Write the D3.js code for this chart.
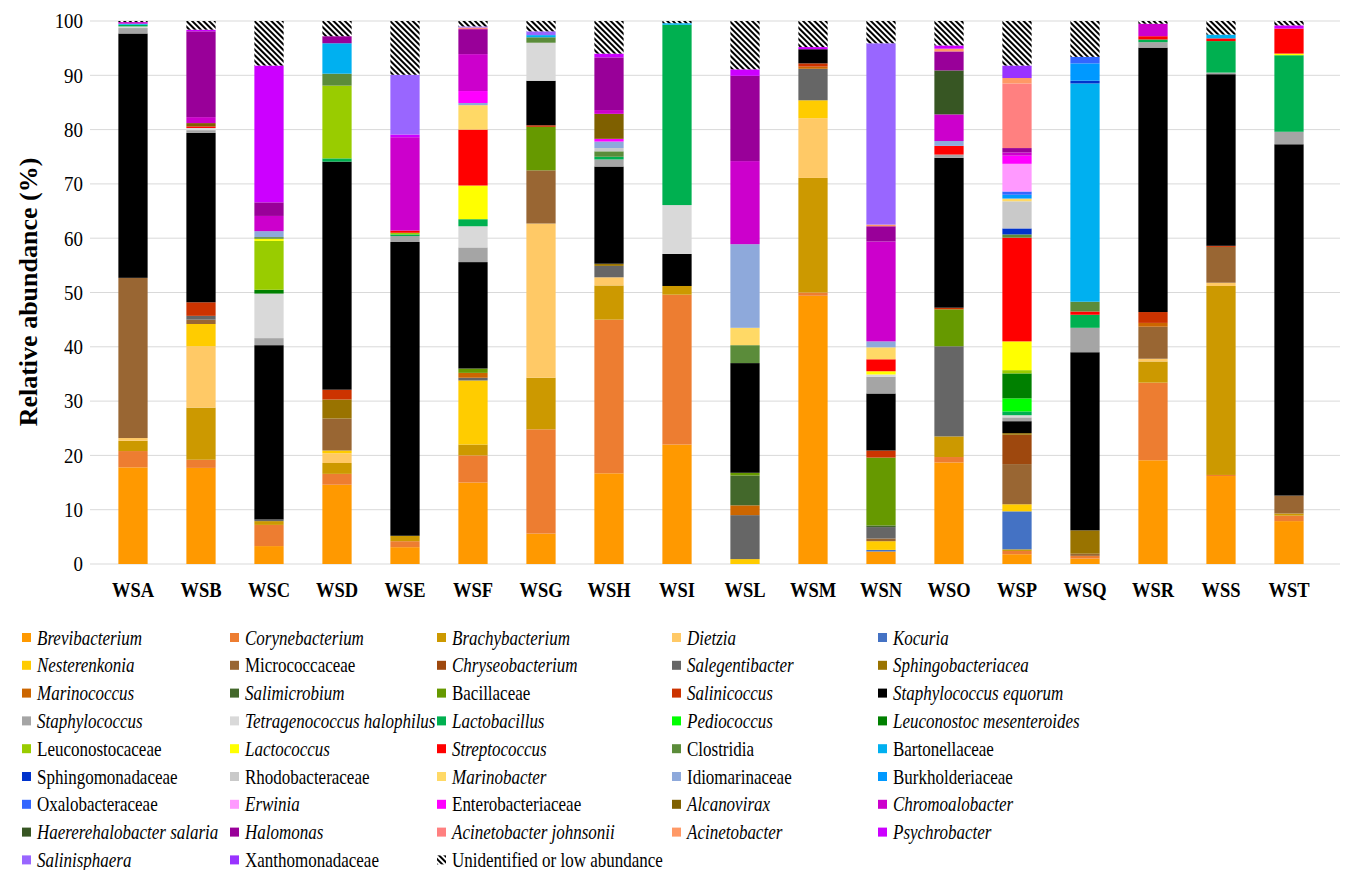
<!DOCTYPE html>
<html>
<head>
<meta charset="utf-8">
<title>Relative abundance</title>
<script src="https://cdn.jsdelivr.net/npm/d3@7"></script>
<style>
  body { margin: 0; background: #fff; }
</style>
</head>
<body>
<svg id="chart" width="1349" height="870"></svg>
<script>
// samples on the x axis
var samples = ["WSA","WSB","WSC","WSD","WSE","WSF","WSG","WSH","WSI","WSL","WSM","WSN","WSO","WSP","WSQ","WSR","WSS","WST"];

// taxa, in legend / stacking order (bottom to top)
var taxa = ["Brevibacterium","Corynebacterium","Brachybacterium","Dietzia","Kocuria",
  "Nesterenkonia","Micrococcaceae","Chryseobacterium","Salegentibacter","Sphingobacteriacea",
  "Marinococcus","Salimicrobium","Bacillaceae","Salinicoccus","Staphylococcus equorum",
  "Staphylococcus","Tetragenococcus halophilus","Lactobacillus","Pediococcus","Leuconostoc mesenteroides",
  "Leuconostocaceae","Lactococcus","Streptococcus","Clostridia","Bartonellaceae",
  "Sphingomonadaceae","Rhodobacteraceae","Marinobacter","Idiomarinaceae","Burkholderiaceae",
  "Oxalobacteraceae","Erwinia","Enterobacteriaceae","Alcanovirax","Chromoalobacter",
  "Haererehalobacter salaria","Halomonas","Acinetobacter johnsonii","Acinetobacter","Psychrobacter",
  "Salinisphaera","Xanthomonadaceae","Unidentified or low abundance"];

var colors = ["#FF9900","#ED7D31","#CC9900","#FFC966","#4472C4",
  "#FFCC00","#996633","#9E480E","#666666","#997300",
  "#CC6600","#43682B","#669900","#CC3300","#000000",
  "#A5A5A5","#D9D9D9","#00B050","#00FF00","#008000",
  "#99CC00","#FFFF00","#FF0000","#5B8C3A","#00B0F0",
  "#0033CC","#C9C9C9","#FFD966","#8EA9DB","#0099FF",
  "#3366FF","#FF99FF","#FF00FF","#7F6000","#CC00CC",
  "#375623","#990099","#FF8080","#FF9966","#CC00FF",
  "#9966FF","#9933FF","url(#hatch)"];

// non-italic (family level) names
var upright = ["Micrococcaceae","Bacillaceae","Leuconostocaceae","Clostridia","Bartonellaceae",
  "Sphingomonadaceae","Rhodobacteraceae","Idiomarinaceae","Burkholderiaceae","Oxalobacteraceae",
  "Enterobacteriaceae","Xanthomonadaceae","Unidentified or low abundance"];

var yTicks = [0,10,20,30,40,50,60,70,80,90,100];

// relative abundance (%) read per sample
var WSA = {"Brevibacterium":17.8,"Corynebacterium":3.0,"Brachybacterium":1.9,"Dietzia":0.5,"Micrococcaceae":29.5,
  "Staphylococcus equorum":45.0,"Staphylococcus":1.0,"Tetragenococcus halophilus":0.3,"Lactobacillus":0.3,
  "Bartonellaceae":0.2,"Chromoalobacter":0.3,"Unidentified or low abundance":0.2};
var WSB = {"Brevibacterium":17.7,"Corynebacterium":1.5,"Brachybacterium":9.6,"Dietzia":11.3,"Nesterenkonia":4.1,
  "Micrococcaceae":0.8,"Salegentibacter":0.7,"Salinicoccus":2.5,"Staphylococcus equorum":31.2,"Staphylococcus":0.5,
  "Tetragenococcus halophilus":0.4,"Streptococcus":0.3,"Alcanovirax":0.6,"Chromoalobacter":1.1,"Halomonas":15.8,
  "Psychrobacter":0.3,"Unidentified or low abundance":1.6};
var WSC = {"Brevibacterium":3.3,"Corynebacterium":3.9,"Brachybacterium":0.7,"Salegentibacter":0.3,
  "Staphylococcus equorum":32.1,"Staphylococcus":1.3,"Tetragenococcus halophilus":8.2,"Leuconostoc mesenteroides":0.7,
  "Leuconostocaceae":9.0,"Lactococcus":0.4,"Clostridia":0.3,"Idiomarinaceae":1.1,"Chromoalobacter":2.8,
  "Halomonas":2.5,"Psychrobacter":25.2,"Unidentified or low abundance":8.2};
var WSD = {"Brevibacterium":14.6,"Corynebacterium":2.0,"Brachybacterium":2.0,"Dietzia":1.8,"Nesterenkonia":0.5,
  "Micrococcaceae":5.9,"Sphingobacteriacea":3.5,"Salinicoccus":1.8,"Staphylococcus equorum":42.0,"Lactobacillus":0.6,
  "Leuconostocaceae":13.4,"Clostridia":2.2,"Bartonellaceae":5.6,"Halomonas":1.3,"Unidentified or low abundance":2.8};
var WSE = {"Brevibacterium":3.1,"Corynebacterium":1.1,"Brachybacterium":1.0,"Staphylococcus equorum":54.1,
  "Staphylococcus":1.1,"Lactobacillus":0.3,"Leuconostocaceae":0.3,"Streptococcus":0.4,"Chromoalobacter":17.2,
  "Psychrobacter":0.5,"Salinisphaera":11.0,"Unidentified or low abundance":9.9};
var WSF = {"Brevibacterium":15.0,"Corynebacterium":5.0,"Brachybacterium":2.0,"Nesterenkonia":11.8,"Salegentibacter":0.5,
  "Marinococcus":0.9,"Bacillaceae":0.8,"Staphylococcus equorum":19.6,"Staphylococcus":2.7,"Tetragenococcus halophilus":3.9,
  "Lactobacillus":1.3,"Lactococcus":6.2,"Streptococcus":10.3,"Marinobacter":4.5,"Idiomarinaceae":0.4,
  "Enterobacteriaceae":2.2,"Chromoalobacter":6.8,"Halomonas":4.6,"Acinetobacter johnsonii":0.3,"Salinisphaera":0.2,
  "Unidentified or low abundance":1.0};
var WSG = {"Brevibacterium":5.6,"Corynebacterium":19.2,"Brachybacterium":9.5,"Dietzia":28.4,"Micrococcaceae":9.8,
  "Bacillaceae":8.0,"Salinicoccus":0.3,"Staphylococcus equorum":8.2,"Tetragenococcus halophilus":7.0,"Clostridia":1.0,
  "Bartonellaceae":0.4,"Salinisphaera":0.7,"Unidentified or low abundance":1.9};
var WSH = {"Brevibacterium":16.7,"Corynebacterium":28.3,"Brachybacterium":6.3,"Dietzia":1.5,"Salegentibacter":2.1,
  "Sphingobacteriacea":0.4,"Staphylococcus equorum":17.9,"Staphylococcus":1.3,"Lactobacillus":0.5,"Clostridia":1.0,
  "Rhodobacteraceae":0.6,"Idiomarinaceae":1.2,"Enterobacteriaceae":0.5,"Alcanovirax":4.6,"Chromoalobacter":0.7,
  "Halomonas":9.7,"Psychrobacter":0.7,"Unidentified or low abundance":6.0};
var WSI = {"Brevibacterium":22.0,"Corynebacterium":27.6,"Brachybacterium":1.6,"Staphylococcus equorum":5.9,
  "Tetragenococcus halophilus":9.0,"Lactobacillus":33.2,"Bartonellaceae":0.3,"Unidentified or low abundance":0.4};
var WSL = {"Nesterenkonia":0.9,"Salegentibacter":8.1,"Marinococcus":1.8,"Salimicrobium":5.5,"Bacillaceae":0.5,
  "Staphylococcus equorum":20.2,"Clostridia":3.3,"Marinobacter":3.2,"Idiomarinaceae":15.4,"Chromoalobacter":15.3,
  "Halomonas":15.7,"Psychrobacter":1.2,"Unidentified or low abundance":8.9};
var WSM = {"Brevibacterium":49.4,"Corynebacterium":0.6,"Brachybacterium":21.1,"Dietzia":11.0,"Nesterenkonia":3.3,
  "Salegentibacter":5.8,"Marinococcus":0.4,"Salinicoccus":0.6,"Staphylococcus equorum":2.6,"Psychrobacter":0.4,
  "Unidentified or low abundance":4.8};
var WSN = {"Brevibacterium":2.3,"Kocuria":0.3,"Nesterenkonia":1.6,"Micrococcaceae":0.5,"Salegentibacter":2.1,
  "Salimicrobium":0.3,"Bacillaceae":12.5,"Salinicoccus":1.3,"Staphylococcus equorum":10.5,"Staphylococcus":3.1,
  "Tetragenococcus halophilus":0.4,"Lactococcus":0.6,"Streptococcus":2.2,"Marinobacter":2.2,"Idiomarinaceae":1.1,
  "Chromoalobacter":18.4,"Halomonas":2.8,"Acinetobacter":0.3,"Salinisphaera":33.4,"Unidentified or low abundance":4.1};
var WSO = {"Brevibacterium":18.7,"Corynebacterium":1.0,"Brachybacterium":3.8,"Salegentibacter":16.6,"Bacillaceae":6.8,
  "Salinicoccus":0.3,"Staphylococcus equorum":27.6,"Staphylococcus":0.6,"Streptococcus":1.6,"Idiomarinaceae":0.9,
  "Chromoalobacter":4.9,"Haererehalobacter salaria":8.1,"Halomonas":3.5,"Acinetobacter":0.5,"Psychrobacter":0.6,
  "Unidentified or low abundance":4.5};
var WSP = {"Brevibacterium":1.8,"Corynebacterium":0.6,"Brachybacterium":0.3,"Kocuria":7.0,"Nesterenkonia":1.3,
  "Micrococcaceae":7.4,"Chryseobacterium":5.4,"Sphingobacteriacea":0.3,"Staphylococcus equorum":2.2,"Staphylococcus":0.7,
  "Tetragenococcus halophilus":0.4,"Lactobacillus":0.7,"Pediococcus":2.4,"Leuconostoc mesenteroides":4.6,
  "Leuconostocaceae":0.6,"Lactococcus":5.3,"Streptococcus":19.1,"Clostridia":0.6,"Sphingomonadaceae":1.1,
  "Rhodobacteraceae":5.0,"Marinobacter":0.5,"Burkholderiaceae":0.7,"Oxalobacteraceae":0.6,"Erwinia":5.1,
  "Enterobacteriaceae":1.5,"Chromoalobacter":0.6,"Halomonas":0.8,"Acinetobacter johnsonii":11.9,"Acinetobacter":1.0,
  "Xanthomonadaceae":2.3,"Unidentified or low abundance":8.2};
var WSQ = {"Brevibacterium":1.0,"Corynebacterium":0.5,"Micrococcaceae":0.4,"Sphingobacteriacea":4.3,
  "Staphylococcus equorum":32.8,"Staphylococcus":4.5,"Lactobacillus":2.4,"Streptococcus":0.6,"Clostridia":1.8,
  "Bartonellaceae":40.2,"Sphingomonadaceae":0.5,"Burkholderiaceae":3.2,"Oxalobacteraceae":1.2,
  "Unidentified or low abundance":6.6};
var WSR = {"Brevibacterium":19.1,"Corynebacterium":14.3,"Brachybacterium":3.9,"Dietzia":0.5,"Micrococcaceae":5.9,
  "Marinococcus":0.7,"Salinicoccus":2.0,"Staphylococcus equorum":48.7,"Staphylococcus":1.0,"Lactobacillus":0.5,
  "Streptococcus":0.6,"Chromoalobacter":2.3,"Unidentified or low abundance":0.5};
var WSS = {"Brevibacterium":16.2,"Corynebacterium":0.2,"Brachybacterium":34.8,"Dietzia":0.6,"Micrococcaceae":6.6,
  "Salinicoccus":0.2,"Staphylococcus equorum":31.6,"Staphylococcus":0.3,"Lactobacillus":5.8,"Streptococcus":0.5,
  "Bartonellaceae":0.7,"Unidentified or low abundance":2.5};
var WST = {"Brevibacterium":7.9,"Corynebacterium":1.0,"Brachybacterium":0.4,"Micrococcaceae":3.3,
  "Staphylococcus equorum":64.7,"Staphylococcus":2.3,"Lactobacillus":14.1,"Lactococcus":0.3,"Streptococcus":4.6,
  "Psychrobacter":0.6,"Unidentified or low abundance":0.8};

var sampleData = [WSA,WSB,WSC,WSD,WSE,WSF,WSG,WSH,WSI,WSL,WSM,WSN,WSO,WSP,WSQ,WSR,WSS,WST];

// table for d3.stack
var rows = samples.map(function(s, i) {
  var r = {sample: s};
  taxa.forEach(function(t) { r[t] = sampleData[i][t] || 0; });
  return r;
});

var serif = "'Liberation Serif', 'Times New Roman', Times, serif";
var chart = d3.select("#chart");

var x = d3.scaleBand().domain(samples).range([99, 1323]).paddingInner(0.57).paddingOuter(0.285);
var y = d3.scaleLinear().domain([0, 100]).range([564, 21]);
var color = d3.scaleOrdinal().domain(taxa).range(colors);

// hatch pattern for unidentified
var defs = chart.append("defs");
var pat = defs.append("pattern").attr("id", "hatch").attr("patternUnits", "userSpaceOnUse")
  .attr("width", 4).attr("height", 4).attr("patternTransform", "rotate(-45)");
pat.append("rect").attr("width", 4).attr("height", 4).attr("fill", "#fff");
pat.append("rect").attr("width", 2).attr("height", 4).attr("fill", "#000");

// grid lines
chart.append("g").selectAll("line").data(yTicks).enter().append("line")
  .attr("x1", 90).attr("x2", 1340)
  .attr("y1", function(d) { return y(d); }).attr("y2", function(d) { return y(d); })
  .style("stroke", "#d9d9d9").style("stroke-width", 1);

// y tick labels
chart.append("g").selectAll("text").data(yTicks).enter().append("text")
  .attr("transform", function(d) { return "translate(83," + y(d) + ") scale(0.9,1)"; })
  .attr("dy", "0.35em")
  .attr("font-family", serif).style("text-anchor", "end").style("font-size", "21px")
  .text(function(d) { return d; });

// y title
chart.append("text").attr("transform", "translate(37,292) rotate(-90)")
  .attr("font-family", serif).style("text-anchor", "middle").style("font-size", "26px").style("font-weight", "bold")
  .text("Relative abundance (%)");

// stacked bars
var series = d3.stack().keys(taxa)(rows);
chart.append("g").selectAll("g").data(series).enter().append("g")
  .attr("fill", function(d) { return color(d.key); })
  .selectAll("rect").data(function(d) { return d; }).enter().append("rect")
  .attr("x", function(d) { return x(d.data.sample); })
  .attr("width", x.bandwidth())
  .attr("y", function(d) { return y(d[1]); })
  .attr("height", function(d) { return y(d[0]) - y(d[1]); });

// x labels
chart.append("g").selectAll("text").data(samples).enter().append("text")
  .attr("transform", function(d) { return "translate(" + (x(d) + x.bandwidth() / 2) + ",597) scale(0.88,1)"; })
  .attr("font-family", serif).style("text-anchor", "middle").style("font-size", "21px").style("font-weight", "bold")
  .text(function(d) { return d; });

// legend
var legendX = [22, 230, 437, 672, 878];
var leg = chart.append("g").selectAll("g").data(taxa).enter().append("g")
  .attr("transform", function(d, i) {
    return "translate(" + legendX[i % 5] + "," + (638 + Math.floor(i / 5) * 27.8) + ")";
  });
leg.append("rect").attr("x", 0).attr("y", -5).attr("width", 9).attr("height", 9)
  .attr("fill", function(d) { return color(d); });
leg.append("text").attr("transform", "translate(15,0) scale(0.85,1)").attr("dy", "0.33em")
  .attr("font-family", serif).style("font-size", "20px")
  .style("font-style", function(d) { return upright.indexOf(d) >= 0 ? "normal" : "italic"; })
  .text(function(d) { return d; });
</script>
</body>
</html>
